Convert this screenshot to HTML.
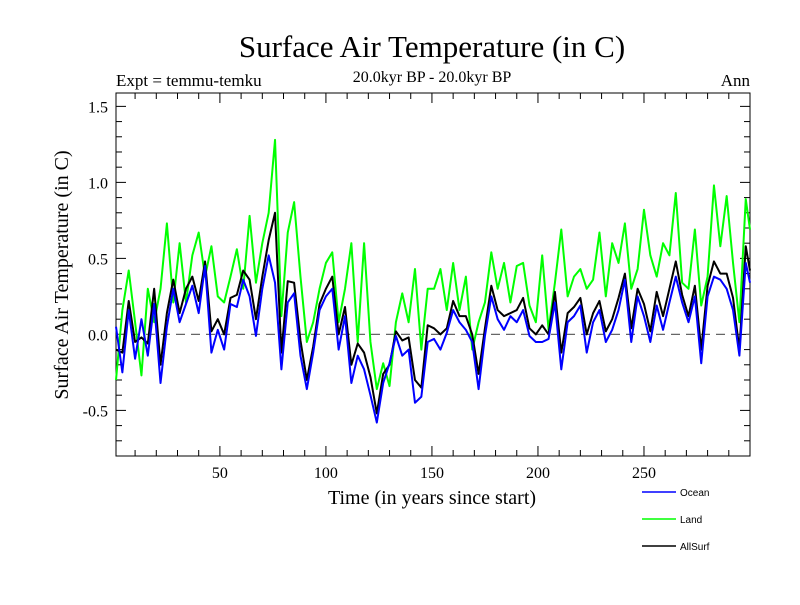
<!DOCTYPE html>
<html><head><meta charset="utf-8"><style>
body{margin:0;background:#fff}
svg text{font-family:"Liberation Serif",serif}
</style></head><body>
<svg id="c" width="800" height="600" xmlns="http://www.w3.org/2000/svg">
<rect width="800" height="600" fill="#fff"/>
<text x="432" y="57" font-size="31" text-anchor="middle">Surface Air Temperature (in C)</text>
<text x="432" y="82" font-size="16" text-anchor="middle">20.0kyr BP - 20.0kyr BP</text>
<text x="116" y="86" font-size="17">Expt = temmu-temku</text>
<text x="750" y="86" font-size="17" text-anchor="end">Ann</text>
<text transform="translate(68,275) rotate(-90)" font-size="20" text-anchor="middle">Surface Air Temperature (in C)</text>
<text x="432" y="504" font-size="20" text-anchor="middle">Time (in years since start)</text>
<g id="axes"></g>
<g id="series"></g>
<g>
<line x1="642" y1="492" x2="676" y2="492" stroke="#0000ff" stroke-width="1.5"/>
<text x="680" y="496" font-size="10" style="font-family:'Liberation Sans',sans-serif">Ocean</text>
<line x1="642" y1="519" x2="676" y2="519" stroke="#00ff00" stroke-width="1.5"/>
<text x="680" y="523" font-size="10" style="font-family:'Liberation Sans',sans-serif">Land</text>
<line x1="642" y1="546" x2="676" y2="546" stroke="#000" stroke-width="1.5"/>
<text x="680" y="550" font-size="10" style="font-family:'Liberation Sans',sans-serif">AllSurf</text>
</g>
</svg>
<script>
const years=[];for(let y=1;y<=298;y+=3)years.push(y);years.push(300);
const ocean=[0.05,-0.25,0.16,-0.16,0.1,-0.14,0.2,-0.32,0.05,0.3,0.08,0.2,0.32,0.14,0.45,-0.12,0.03,-0.1,0.2,0.18,0.36,0.25,-0.01,0.3,0.52,0.34,-0.23,0.21,0.27,-0.14,-0.36,-0.12,0.16,0.25,
0.3,-0.1,0.12,-0.32,-0.14,-0.23,-0.4,-0.58,-0.32,-0.19,-0.01,-0.14,-0.1,-0.45,-0.41,-0.05,-0.03,-0.1,0.01,0.16,0.08,0.03,-0.05,-0.36,-0.01,0.25,0.1,0.03,0.12,0.08,0.16,-0.01,-0.05,
-0.05,-0.03,0.21,-0.23,0.08,0.12,0.19,-0.12,0.08,0.16,-0.05,0.03,0.16,0.36,-0.05,0.25,0.12,-0.05,0.19,0.03,0.21,0.38,0.21,0.08,0.25,-0.19,0.25,0.38,0.36,0.3,0.16,-0.14,0.47,0.34];
const land=[-0.3,0.16,0.42,0.08,-0.27,0.3,0.08,0.3,0.73,0.21,0.6,0.21,0.52,0.67,0.38,0.58,0.25,0.21,0.38,0.56,0.3,0.78,0.34,0.6,0.8,1.28,0.12,0.67,0.87,0.38,-0.05,0.08,0.3,0.47,
0.54,0.08,0.3,0.6,-0.05,0.6,-0.05,-0.36,-0.19,-0.34,0.08,0.27,0.08,0.43,-0.1,0.3,0.3,0.43,0.16,0.47,0.16,0.38,-0.1,0.08,0.21,0.54,0.3,0.47,0.21,0.45,0.47,0.19,0.08,
0.52,0.03,0.34,0.69,0.25,0.38,0.43,0.3,0.36,0.67,0.25,0.6,0.47,0.73,0.3,0.43,0.82,0.52,0.38,0.6,0.52,0.93,0.34,0.3,0.69,0.19,0.38,0.98,0.58,0.91,0.47,0.08,0.89,0.69];
const allsurf=[-0.1,-0.12,0.22,-0.05,-0.02,-0.06,0.3,-0.2,0.14,0.36,0.14,0.3,0.38,0.22,0.48,0.02,0.1,0.0,0.24,0.26,0.42,0.36,0.1,0.38,0.62,0.8,-0.12,0.35,0.34,-0.04,-0.3,-0.08,0.2,0.3,
0.38,0.0,0.18,-0.2,-0.06,-0.12,-0.28,-0.52,-0.26,-0.2,0.02,-0.04,-0.02,-0.3,-0.35,0.06,0.04,0.0,0.04,0.22,0.12,0.12,0.0,-0.26,0.04,0.32,0.16,0.12,0.14,0.16,0.24,0.04,0.0,
0.06,-0.0,0.28,-0.12,0.14,0.18,0.24,0.0,0.14,0.22,0.02,0.1,0.24,0.4,0.04,0.3,0.2,0.02,0.28,0.12,0.3,0.48,0.26,0.12,0.32,-0.1,0.32,0.48,0.4,0.4,0.24,-0.1,0.58,0.42];
const yTicks=[-0.5,0.0,0.5,1.0,1.5];
const xTicks=[50,100,150,200,250];
const L=116,R=750,T=93,B=456,xmin=1,xmax=300,ymin=-0.8,ymax=1.588;
const sx=v=>L+(v-xmin)/(xmax-xmin)*(R-L);
const sy=v=>B-(v-ymin)/(ymax-ymin)*(B-T);
const NS="http://www.w3.org/2000/svg";
const ax=document.getElementById('axes');
function mk(tag,attrs,parent){const e=document.createElementNS(NS,tag);for(const k in attrs)e.setAttribute(k,attrs[k]);parent.appendChild(e);return e;}
const frame=mk('rect',{x:L,y:T,width:R-L,height:B-T,fill:'none',stroke:'#000','stroke-width':1},ax);


for(let v=-0.8;v<=1.55;v+=0.1){const y=sy(v);const major=Math.abs(Math.round(v*10)%5)===0;const len=major?10:6;
 mk('line',{x1:L,y1:y,x2:L+len,y2:y,stroke:'#000'},ax);mk('line',{x1:R,y1:y,x2:R-len,y2:y,stroke:'#000'},ax);}
for(let v=10;v<300;v+=10){const x=sx(v);const len=v%50===0?10:6;
 mk('line',{x1:x,y1:B,x2:x,y2:B-len,stroke:'#000'},ax);mk('line',{x1:x,y1:T,x2:x,y2:T+len,stroke:'#000'},ax);}
yTicks.forEach(v=>{const t=mk('text',{x:L-8,y:sy(v)+6,'font-size':16,'text-anchor':'end'},ax);t.textContent=v.toFixed(1);
 
 });
xTicks.forEach(v=>{const t=mk('text',{x:sx(v),y:B+22,'font-size':16,'text-anchor':'middle'},ax);t.textContent=v;
 
 });
const zl=mk('line',{x1:L,y1:sy(0),x2:R,y2:sy(0),stroke:'#666','stroke-dasharray':'9,6','stroke-width':1.2},ax);


const sg=document.getElementById('series');
function draw(arr,color,name){const p=mk('polyline',{points:arr.map((v,i)=>sx(years[i])+','+sy(v)).join(' '),fill:'none',stroke:color,'stroke-width':2,'stroke-linejoin':'round'},sg);
 
 }
draw(land,'#00ff00','land-line');
draw(allsurf,'#000000','allsurf-line');
draw(ocean,'#0000ff','ocean-line');
</script>
</body></html>
